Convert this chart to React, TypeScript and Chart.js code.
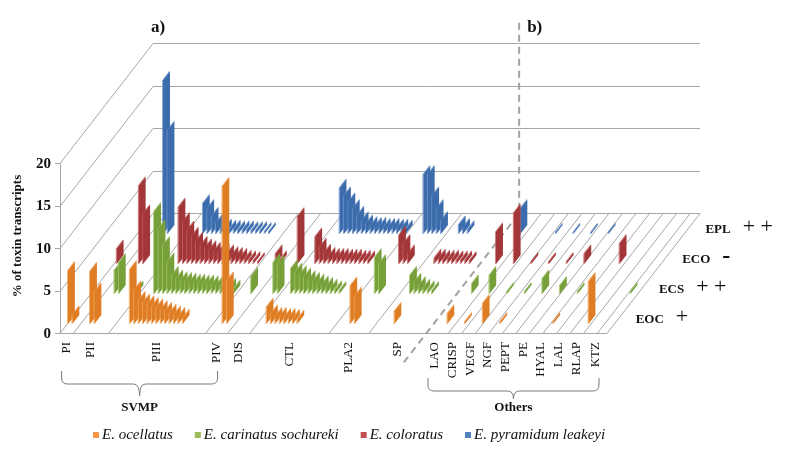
import { useEffect, useRef } from 'react';
import { Chart, registerables } from 'chart.js';

Chart.register(...registerables);

const _ = null;

// Toxin families (tick labels) and how many transcript slots each one spans
const groupNames = ['PI', 'PII', 'PIII', 'PIV', 'DIS', 'CTL', 'PLA2', 'SP', 'LAO', 'CRISP', 'VEGF', 'NGF', 'PEPT', 'PE', 'HYAL', 'LAL', 'RLAP', 'KTZ'];
const groupSlots = [3, 8, 22, 5, 5, 18, 9, 13, 4, 4, 4, 4, 4, 4, 4, 4, 4, 5];
const svmpGroups = ['PI', 'PII', 'PIII', 'PIV'];
const otherGroups = ['LAO', 'CRISP', 'VEGF', 'NGF', 'PEPT', 'PE', 'HYAL', 'LAL', 'RLAP', 'KTZ'];

const seriesNames = ['E. ocellatus', 'E. carinatus sochureki', 'E. coloratus', 'E. pyramidum leakeyi'];
const rowLabels = ['EOC', 'ECS', 'ECO', 'EPL'];
const rowMarks = ['+', '+ +', '-', '+ +'];
const yTicks = [0, 5, 10, 15, 20];

// % of toxin transcripts, per family, per transcript slot
const ocellatus = [
  [6.3, 1.1],
  [_, _, 6.2, 3.8],
  [_, _, _, 6.4, 4.0, 2.8, 2.5, 2.3, 2.1, 1.9, 1.7, 1.5, 1.3, 1.1, 0.9, 0.7],
  [_, _, 16.2, 5.1],
  [],
  [_, _, 2.0, 1.2, 0.9, 0.9, 0.8, 0.8, 0.7, 0.6],
  [_, _, _, 4.5, 3.3],
  [_, _, _, _, 1.5],
  [_, _, _, 1.2],
  [_, _, _, 0.3],
  [_, _, _, 2.4],
  [_, _, _, 0.3],
  [],
  [],
  [_, _, _, 0.3],
  [],
  [_, _, _, 5.0],
  [],
];

const carinatus = [
  [],
  [_, _, 2.8, 3.7, _, _, _, 0.5],
  [_, _, _, 9.7, 7.7, 5.7, 3.8, 2.2, 1.8, 1.6, 1.5, 1.4, 1.3, 1.3, 1.2, 1.2, 1.1, 1.0, 1.0, 0.9, 0.8, 0.6],
  [_, _, _, 2.1],
  [_, _, _, 3.7, 3.5],
  [_, _, 3.0, 2.6, 2.3, 2.0, 1.7, 1.5, 1.3, 1.1, 0.9, 0.7, 0.5, 0.4],
  [_, _, _, 4.3, 3.6],
  [_, _, 2.2, 1.4, 1.0, 0.7, 0.5, 0.4],
  [_, _, _, 1.2],
  [_, _, _, 2.2],
  [_, _, _, 0.3],
  [_, _, _, 0.3],
  [_, _, _, 1.8],
  [_, _, _, 1.0],
  [_, _, _, 0.3],
  [],
  [],
  [_, _, _, 0.3],
];

const coloratus = [
  [1.8],
  [_, _, 9.2, 5.9],
  [_, _, _, 6.7, 5.0, 4.0, 3.3, 2.7, 2.2, 1.9, 1.7, 1.5, 1.4, 1.3, 1.2, 1.0, 0.9, 0.8, 0.6, 0.5, 0.4, 0.3],
  [_, _, _, 1.2, 0.5],
  [_, _, _, 5.6],
  [_, _, 3.2, 2.0, 1.3, 0.9, 0.8, 0.8, 0.8, 0.7, 0.7, 0.7, 0.6, 0.6, 0.5],
  [_, _, _, 3.4, 2.4, 1.2],
  [_, _, 0.7, 0.7, 0.6, 0.6, 0.6, 0.5, 0.5, 0.5, 0.4],
  [_, _, _, 3.8],
  [_, _, _, 6.0],
  [_, _, _, 0.3],
  [_, _, _, 0.3],
  [_, _, _, 0.3],
  [_, _, _, 1.2],
  [],
  [_, _, _, 2.4],
  [],
  [],
];

const pyramidum = [
  [],
  [_, _, 18.1, 12.2],
  [_, _, _, 3.6, 3.0, 2.1, 1.3, 0.8, 0.7, 0.6, 0.6, 0.5, 0.5, 0.5, 0.4, 0.4, 0.4, 0.3, 0.3],
  [],
  [],
  [_, _, 5.4, 4.5, 3.8, 3.0, 2.2, 1.6, 1.2, 1.0, 0.9, 0.9, 0.8, 0.8, 0.8, 0.7, 0.7, 0.6],
  [_, _, _, 7.0, 7.0, 4.5, 3.0, 1.6],
  [_, _, 1.1, 0.8, 0.5],
  [_, _, _, 3.0],
  [],
  [_, _, _, 0.2],
  [_, _, _, 0.2],
  [_, _, _, 0.2],
  [_, _, _, 0.2],
  [],
  [],
  [],
  [],
];

const seriesValues = [ocellatus, carinatus, coloratus, pyramidum];

// ---- styling / geometry ----
const DEPTH_X = 93;
const DEPTH_Y = -120;
const ROW_START = 0.075;
const ROW_STEP = 0.25;
const BAR_DEPTH = 0.075;
const GRID = '#a6a6a6';
const TEXT = '#111111';
const SERIF = '"Liberation Serif", "Times New Roman", serif';

const palette = [
  { key: '#F79646', front: '#F2A455', side: '#DF7D25', top: '#EC9441' },
  { key: '#9BBB59', front: '#A0C462', side: '#77A03B', top: '#8CB24E' },
  { key: '#C0504D', front: '#C65E5E', side: '#A23639', top: '#B54A4B' },
  { key: '#4F81BD', front: '#6993CB', side: '#3C6CAB', top: '#5281BE' },
];

const groupStarts: number[] = [];
groupSlots.reduce((acc, n) => {
  groupStarts.push(acc);
  return acc + n;
}, 0);
const N = groupSlots.reduce((a, b) => a + b, 0);

function flatten(groups: (number | null)[][]): (number | null)[] {
  const out: (number | null)[] = [];
  groupSlots.forEach((n, g) => {
    for (let i = 0; i < n; i++) {
      const v = groups[g] ? groups[g][i] : null;
      out.push(v === undefined ? null : v);
    }
  });
  return out;
}

function slotPx(chart: any, p: number) {
  return chart.scales.x.getPixelForValue(p - 0.5);
}

function groupCenter(chart: any, name: string) {
  const g = groupNames.indexOf(name);
  return slotPx(chart, groupStarts[g] + groupSlots[g] / 2);
}

function drawBrace(ctx: CanvasRenderingContext2D, x1: number, x2: number, yTop: number, yMid: number, yTip: number) {
  const xm = (x1 + x2) / 2;
  const r = 6;
  ctx.beginPath();
  ctx.moveTo(x1, yTop);
  ctx.lineTo(x1, yMid - r);
  ctx.quadraticCurveTo(x1, yMid, x1 + r, yMid);
  ctx.lineTo(xm - r, yMid);
  ctx.quadraticCurveTo(xm, yMid, xm, yTip);
  ctx.quadraticCurveTo(xm, yMid, xm + r, yMid);
  ctx.lineTo(x2 - r, yMid);
  ctx.quadraticCurveTo(x2, yMid, x2, yMid - r);
  ctx.lineTo(x2, yTop);
  ctx.stroke();
}

const scenePlugin = {
  id: 'scene3d',
  beforeDatasetsDraw(chart: any) {
    const { ctx, chartArea: a } = chart;
    const ys = chart.scales.y;
    const b = Math.round(a.bottom) + 0.5;
    ctx.save();
    ctx.strokeStyle = GRID;
    ctx.lineWidth = 1;
    ctx.beginPath();
    yTicks.forEach((v) => {
      const py = Math.round(ys.getPixelForValue(v)) + 0.5;
      ctx.moveTo(a.left, py);
      ctx.lineTo(a.left + DEPTH_X, py + DEPTH_Y);
      ctx.lineTo(a.right + DEPTH_X, py + DEPTH_Y);
      ctx.moveTo(a.left - 5, py);
      ctx.lineTo(a.left, py);
    });
    ctx.moveTo(a.left + 0.5, Math.round(a.top) + 0.5);
    ctx.lineTo(a.left + 0.5, b);
    ctx.moveTo(a.left, b);
    ctx.lineTo(a.right, b);
    ctx.lineTo(a.right + DEPTH_X, b + DEPTH_Y);
    // floor dividers between families
    const dividers = groupStarts.slice(1, 8);
    const others: number[] = [];
    for (let j = 0; j < 12; j++) others.push(88 + j * 3.07);
    dividers.concat(others).forEach((p) => {
      const px = slotPx(chart, p);
      ctx.moveTo(px, b);
      ctx.lineTo(px + DEPTH_X, b + DEPTH_Y);
    });
    ctx.stroke();

    // dashed separator a) | b)
    const x0 = slotPx(chart, groupStarts[8]);
    ctx.strokeStyle = '#a3a3a3';
    ctx.lineWidth = 2;
    ctx.setLineDash([7, 5]);
    ctx.beginPath();
    ctx.moveTo(x0 - DEPTH_X * 0.24, b - DEPTH_Y * 0.24);
    ctx.lineTo(x0 + DEPTH_X, b + DEPTH_Y);
    ctx.lineTo(x0 + DEPTH_X, 18);
    ctx.stroke();
    ctx.restore();
  },
  beforeDatasetDraw(chart: any, args: any) {
    const { ctx } = chart;
    const k = args.index;
    const meta = args.meta;
    const data = chart.data.datasets[k].data;
    const col = palette[k];
    const d0 = ROW_START + ROW_STEP * k;
    const ox = DEPTH_X * d0;
    const oy = DEPTH_Y * d0;
    const bx = DEPTH_X * BAR_DEPTH;
    const by = DEPTH_Y * BAR_DEPTH;
    ctx.save();
    meta.data.forEach((el: any, i: number) => {
      if (data[i] === null || data[i] === undefined) return;
      const w = el.width;
      const l = el.x - w / 2 + ox;
      const r = el.x + w / 2 + ox;
      const t = el.y + oy;
      const bt = el.base + oy;
      // side face
      ctx.fillStyle = col.side;
      ctx.beginPath();
      ctx.moveTo(r, bt);
      ctx.lineTo(r + bx, bt + by);
      ctx.lineTo(r + bx, t + by);
      ctx.lineTo(r, t);
      ctx.closePath();
      ctx.fill();
      // top face
      ctx.fillStyle = col.top;
      ctx.beginPath();
      ctx.moveTo(l, t);
      ctx.lineTo(r, t);
      ctx.lineTo(r + bx, t + by);
      ctx.lineTo(l + bx, t + by);
      ctx.closePath();
      ctx.fill();
      // front face
      ctx.fillStyle = col.front;
      ctx.fillRect(l, t, w, bt - t);
    });
    ctx.restore();
    return false;
  },
  afterDraw(chart: any) {
    const { ctx, chartArea: a } = chart;
    const ys = chart.scales.y;
    ctx.save();
    ctx.fillStyle = TEXT;

    // y tick labels
    ctx.font = `bold 15px ${SERIF}`;
    ctx.textAlign = 'right';
    ctx.textBaseline = 'middle';
    yTicks.forEach((v) => ctx.fillText(String(v), a.left - 9, ys.getPixelForValue(v) + 1));

    // y axis title
    ctx.save();
    ctx.translate(18, 236);
    ctx.rotate(-Math.PI / 2);
    ctx.font = `bold 13px ${SERIF}`;
    ctx.textAlign = 'center';
    ctx.fillText('% of toxin transcripts', 0, 0);
    ctx.restore();

    // panel titles
    ctx.font = `bold 17px ${SERIF}`;
    ctx.textAlign = 'left';
    ctx.fillText('a)', a.left + DEPTH_X - 2, 28);
    ctx.fillText('b)', slotPx(chart, groupStarts[8]) + DEPTH_X + 8, 28);

    // category labels (rotated)
    ctx.font = `13px ${SERIF}`;
    groupNames.forEach((name) => {
      ctx.save();
      ctx.translate(groupCenter(chart, name), a.bottom + 9);
      ctx.rotate(-Math.PI / 2);
      ctx.textAlign = 'right';
      ctx.textBaseline = 'middle';
      ctx.fillText(name, 0, 0);
      ctx.restore();
    });

    // braces
    ctx.strokeStyle = '#7a7a7a';
    ctx.lineWidth = 1;
    const s1 = groupCenter(chart, svmpGroups[0]) - 5;
    const s2 = groupCenter(chart, svmpGroups[svmpGroups.length - 1]) + 1;
    drawBrace(ctx, s1, s2, 371, 384, 396);
    const o1 = groupCenter(chart, otherGroups[0]) - 7;
    const o2 = groupCenter(chart, otherGroups[otherGroups.length - 1]) + 3;
    drawBrace(ctx, o1, o2, 378, 391, 399);
    ctx.font = `bold 13px ${SERIF}`;
    ctx.textAlign = 'center';
    ctx.textBaseline = 'middle';
    ctx.fillText('SVMP', (s1 + s2) / 2, 408);
    ctx.fillText('Others', (o1 + o2) / 2, 408);

    // depth row labels on the right
    rowLabels.forEach((lab, k) => {
      const dm = ROW_START + ROW_STEP * k + 0.05;
      const ex = a.right + DEPTH_X * dm + 17;
      const ey = a.bottom + DEPTH_Y * dm + 2;
      ctx.font = `bold 13px ${SERIF}`;
      ctx.textAlign = 'left';
      ctx.textBaseline = 'middle';
      ctx.fillText(lab, ex, ey);
      const wLab = ctx.measureText(lab).width;
      ctx.font = rowMarks[k] === '-' ? `bold 24px ${SERIF}` : `22px ${SERIF}`;
      ctx.fillText(rowMarks[k], ex + wLab + 12, ey - 3);
    });

    // legend
    let lx = 93;
    const ly = 435;
    ctx.font = `italic 15px ${SERIF}`;
    ctx.textAlign = 'left';
    ctx.textBaseline = 'middle';
    seriesNames.forEach((name, i) => {
      ctx.fillStyle = palette[i].key;
      ctx.fillRect(lx, ly - 3, 6, 6);
      ctx.fillStyle = TEXT;
      ctx.fillText(name, lx + 9, ly);
      lx += 9 + ctx.measureText(name).width + 22;
    });
    ctx.restore();
  },
};

export default function App() {
  const ref = useRef<HTMLCanvasElement | null>(null);
  useEffect(() => {
    if (!ref.current) return;
    const labels = Array.from({ length: N }, (_v, i) => String(i));
    const chart = new Chart(ref.current, {
      type: 'bar',
      data: {
        labels,
        datasets: seriesNames.map((name, k) => ({
          label: name,
          data: flatten(seriesValues[k]),
          backgroundColor: palette[k].key,
          barPercentage: 0.7,
          categoryPercentage: 1,
        })),
      },
      options: {
        responsive: true,
        maintainAspectRatio: false,
        animation: false,
        events: [],
        layout: { padding: { left: 60, right: 178, top: 163, bottom: 127 } },
        scales: {
          x: { display: false },
          y: { display: false, min: 0, max: 20 },
        },
        plugins: {
          legend: { display: false },
          tooltip: { enabled: false },
        },
      },
      plugins: [scenePlugin],
    } as any);
    return () => chart.destroy();
  }, []);
  return (
    <div style={{ position: 'fixed', left: 0, top: 0, width: 785, height: 460, background: '#fff' }}>
      <canvas ref={ref} />
    </div>
  );
}
